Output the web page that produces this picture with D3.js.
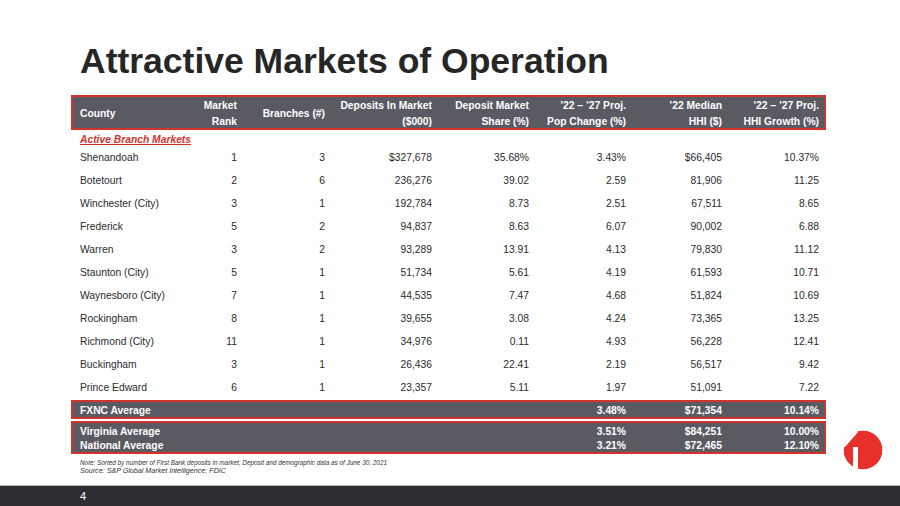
<!DOCTYPE html>
<html><head><meta charset="utf-8">
<script src="https://cdn.jsdelivr.net/npm/d3@7"></script>
<style>html,body{margin:0;padding:0;background:#fff}svg{display:block}</style>
</head><body>
<script>
const counties = ["Shenandoah","Botetourt","Winchester (City)","Frederick","Warren","Staunton (City)","Waynesboro (City)","Rockingham","Richmond (City)","Buckingham","Prince Edward"];
const marketRank = [1,2,3,5,3,5,7,8,11,3,6];
const branches = [3,6,1,2,2,1,1,1,1,1,1];
const deposits = [327678,236276,192784,94837,93289,51734,44535,39655,34976,26436,23357];
const depositShare = [35.68,39.02,8.73,8.63,13.91,5.61,7.47,3.08,0.11,22.41,5.11];
const popChange = [3.43,2.59,2.51,6.07,4.13,4.19,4.68,4.24,4.93,2.19,1.97];
const medianHHI = [66405,81906,67511,90002,79830,61593,51824,73365,56228,56517,51091];
const hhiGrowth = [10.37,11.25,8.65,6.88,11.12,10.71,10.69,13.25,12.41,9.42,7.22];
const headers = [["County"],["Market","Rank"],["Branches (#)"],["Deposits In Market","($000)"],["Deposit Market","Share (%)"],["\u201922 \u2013 \u201927 Proj.","Pop Change (%)"],["\u201922 Median","HHI ($)"],["\u201922 \u2013 \u201927 Proj.","HHI Growth (%)"]];
const avgLabels = ["FXNC Average","Virginia Average","National Average"];
const avgPop = [3.48,3.51,3.21];
const avgHHI = [71354,84251,72465];
const avgGrowth = [10.14,10.00,12.10];

const W=900,H=506;
const RED="#d2342c", HDR="#5a5a63", TXT="#2b2b2b";
const FONT="'Liberation Sans', Arial, sans-serif";
const svg=d3.select("body").append("svg").attr("width",W).attr("height",H).style("font-family",FONT);

// title
svg.append("text").attr("x",80).attr("y",73).attr("font-size",35.5).attr("font-weight","bold").attr("fill","#262626").text("Attractive Markets of Operation");

// column right edges (col 0 is left aligned)
const colX = d3.scaleOrdinal().domain(d3.range(8)).range([80,237,325,432,529,626,722,819]);
const anchor = i => i===0?"start":"end";

// header box
svg.append("rect").attr("x",72).attr("y",96).attr("width",753).attr("height",33).attr("fill",HDR).attr("stroke",RED).attr("stroke-width",2);
headers.forEach((h,i)=>{
  const t=svg.append("text").attr("x",colX(i)).attr("text-anchor",anchor(i)).attr("font-size",10.3).attr("font-weight","bold").attr("fill","#fff");
  if(h.length===1){t.attr("y",117).text(h[0]);}
  else{
    t.append("tspan").attr("x",colX(i)).attr("y",109).text(h[0]);
    t.append("tspan").attr("x",colX(i)).attr("y",125).text(h[1]);
  }
});

// section label
svg.append("text").attr("x",80).attr("y",143).attr("font-size",10.3).attr("font-weight","bold").attr("font-style","italic").attr("fill",RED).attr("text-decoration","underline").text("Active Branch Markets");

// rows
const y = d3.scalePoint().domain(counties).range([157,387]);
const f0 = d3.format(",");
const f2 = d3.format(".2f");
const rows = counties.map((c,i)=>[
  c,
  String(marketRank[i]),
  String(branches[i]),
  (i===0?"$":"")+f0(deposits[i]),
  f2(depositShare[i])+(i===0?"%":""),
  f2(popChange[i])+(i===0?"%":""),
  (i===0?"$":"")+f0(medianHHI[i]),
  f2(hhiGrowth[i])+(i===0?"%":"")
]);
const rowG = svg.selectAll("g.row").data(rows).join("g").attr("class","row")
  .attr("transform",(d,i)=>`translate(0,${y(counties[i])+3.7})`);
rowG.selectAll("text").data(d=>d).join("text")
  .attr("x",(d,j)=>colX(j)).attr("text-anchor",(d,j)=>anchor(j))
  .attr("font-size",10.3).attr("fill",TXT).text(d=>d);

// average boxes
svg.append("rect").attr("x",72).attr("y",401).attr("width",753).attr("height",17).attr("fill",HDR).attr("stroke",RED).attr("stroke-width",2);
svg.append("rect").attr("x",72).attr("y",422).attr("width",753).attr("height",31).attr("fill",HDR).attr("stroke",RED).attr("stroke-width",2);
const avgY = d3.scaleOrdinal().domain(avgLabels).range([410,431,445]);
avgLabels.forEach((lab,i)=>{
  const vals=[lab,f2(avgPop[i])+"%","$"+f0(avgHHI[i]),f2(avgGrowth[i])+"%"];
  const cols=[0,5,6,7];
  vals.forEach((v,k)=>{
    svg.append("text").attr("x",colX(cols[k])).attr("y",avgY(lab)+3.7).attr("text-anchor",anchor(cols[k]))
      .attr("font-size",10.3).attr("font-weight","bold").attr("fill","#fff").text(v);
  });
});

// notes
svg.append("text").attr("x",80).attr("y",465).attr("font-size",6.3).attr("font-style","italic").attr("fill","#333")
  .attr("textLength",307).attr("lengthAdjust","spacingAndGlyphs")
  .text("Note: Sorted by number of First Bank deposits in market; Deposit and demographic data as of June 30, 2021");
svg.append("text").attr("x",80).attr("y",473).attr("font-size",6.3).attr("font-style","italic").attr("fill","#333")
  .attr("textLength",146).attr("lengthAdjust","spacingAndGlyphs")
  .text("Source: S&P Global Market Intelligence; FDIC");

// footer bar
svg.append("rect").attr("x",0).attr("y",485).attr("width",W).attr("height",1).attr("fill","#b8b8b8");
svg.append("rect").attr("x",0).attr("y",486).attr("width",W).attr("height",20).attr("fill","#2e2e32");
svg.append("text").attr("x",80).attr("y",500).attr("font-size",11).attr("fill","#fff").text("4");

// logo
const lg=svg.append("g");
lg.append("clipPath").attr("id","lc").append("circle").attr("cx",863).attr("cy",450).attr("r",19.5);
const lgc=lg.append("g").attr("clip-path","url(#lc)");
lgc.append("circle").attr("cx",863).attr("cy",450).attr("r",19.5).attr("fill","#e8302a");
lgc.append("path").attr("d","M838,420 L858,420 L858,432 L845,447 L838,447 Z").attr("fill","#fff");
lgc.append("rect").attr("x",853).attr("y",447).attr("width",5).attr("height",28).attr("fill","#fff");
</script>
</body></html>
